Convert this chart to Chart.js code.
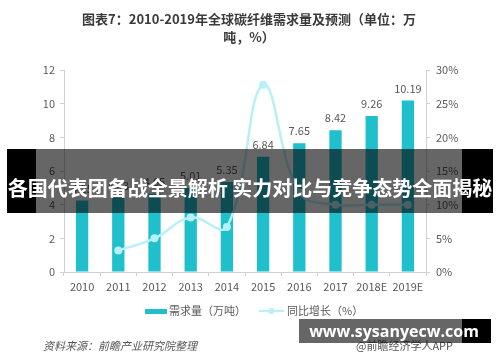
<!DOCTYPE html>
<html>
<head>
<meta charset="utf-8">
<script src="https://cdn.jsdelivr.net/npm/chart.js@4"></script>
<style>
  body { margin: 0; background: #fff; }
  #wrap { position: relative; width: 500px; height: 362px; }
  .cover { position: absolute; }
  #banner-mid { left: 36px; top: 149px; width: 426px; height: 64px; background: rgba(0,0,0,0.6); }
  #banner-l { left: 7px; top: 149px; width: 29px; height: 64px; background: #000; }
  #banner-r { left: 462px; top: 149px; width: 31px; height: 64px; background: #000; }
  #banner-text { left: 0; top: 170px; width: 500px; height: 36px; line-height: 36px; text-align: center;
    color: #fff; font-weight: bold; font-size: 20px; font-family: "Noto Sans CJK SC", sans-serif; white-space: nowrap; }
  #wm-mid { left: 299px; top: 319px; width: 163px; height: 24px; background: rgba(0,0,0,0.6); }
  #wm-r { left: 462px; top: 319px; width: 29px; height: 24px; background: #000; }
  #wm-text { left: 299px; top: 319px; width: 190px; height: 24px; line-height: 24px; text-align: center;
    color: #fff; font-weight: bold; font-size: 16px; font-family: "Open Sans", sans-serif; white-space: nowrap; }
</style>
</head>
<body>
<div id="wrap">
  <canvas id="chart" width="500" height="362"></canvas>
  <div class="cover" id="banner-mid"></div>
  <div class="cover" id="banner-l"></div>
  <div class="cover" id="banner-r"></div>
  <div class="cover" id="banner-text">各国代表团备战全景解析 实力对比与竞争态势全面揭秘</div>
  <div class="cover" id="wm-mid"></div>
  <div class="cover" id="wm-r"></div>
  <div class="cover" id="wm-text">www.sysanyecw.com</div>
</div>
<script>
const years = ['2010', '2011', '2012', '2013', '2014', '2015', '2016', '2017', '2018E', '2019E'];
const demand = [4.25, 4.43, 4.65, 5.01, 5.35, 6.84, 7.65, 8.42, 9.26, 10.19];
const growth = [null, 3.2, 5.0, 8.1, 6.7, 27.8, 11.8, 10.0, 10.0, 10.0];
const titleLines = ['图表7：2010-2019年全球碳纤维需求量及预测（单位：万', '吨，%）'];
const legendLabels = ['需求量（万吨）', '同比增长（%）'];

const FONT = '"Noto Sans CJK SC", sans-serif';
const barColor = '#1fbfcc';
const lineColor = '#b8f0f8';
const textColor = '#595959';

// title, bar values, legend and source note
const extras = {
  id: 'extras',
  afterDatasetsDraw(chart) {
    const ctx = chart.ctx;
    ctx.save();
    ctx.fillStyle = textColor;
    ctx.font = '11px ' + FONT;
    ctx.textAlign = 'center';
    ctx.textBaseline = 'middle';
    chart.getDatasetMeta(1).data.forEach((bar, i) => {
      ctx.fillText(demand[i].toFixed(2), bar.x, bar.y - 12);
    });
    ctx.restore();
  },
  afterDraw(chart) {
    const ctx = chart.ctx;
    ctx.save();
    ctx.fillStyle = '#3a3a3a';
    ctx.font = 'bold 13px ' + FONT;
    ctx.textAlign = 'center';
    ctx.textBaseline = 'middle';
    ctx.fillText(titleLines[0], 249, 19);
    ctx.fillText(titleLines[1], 249, 37);

    // legend
    ctx.font = '11px ' + FONT;
    ctx.textAlign = 'left';
    ctx.fillStyle = barColor;
    ctx.fillRect(145, 309, 22, 5);
    ctx.fillStyle = textColor;
    ctx.fillText(legendLabels[0], 169, 311);
    ctx.strokeStyle = lineColor;
    ctx.lineWidth = 2;
    ctx.beginPath();
    ctx.moveTo(259, 311);
    ctx.lineTo(284, 311);
    ctx.stroke();
    ctx.fillStyle = lineColor;
    ctx.beginPath();
    ctx.arc(271.5, 311, 3, 0, Math.PI * 2);
    ctx.fill();
    ctx.fillStyle = textColor;
    ctx.fillText(legendLabels[1], 287, 311);

    // source
    ctx.fillStyle = '#555';
    ctx.font = 'italic 11px ' + FONT;
    ctx.fillText('资料来源：前瞻产业研究院整理', 43, 346);
    ctx.font = '11px ' + FONT;
    ctx.fillText('@前瞻经济学人APP', 356, 346);
    ctx.restore();
  }
};

new Chart(document.getElementById('chart'), {
  data: {
    labels: years,
    datasets: [{
      type: 'line',
      label: legendLabels[1],
      data: growth,
      yAxisID: 'y1',
      borderColor: lineColor,
      backgroundColor: lineColor,
      borderWidth: 2.5,
      pointRadius: 4,
      pointBackgroundColor: lineColor,
      pointBorderWidth: 0,
      tension: 0.4,
      order: 0
    }, {
      type: 'bar',
      label: legendLabels[0],
      data: demand,
      yAxisID: 'y',
      backgroundColor: barColor,
      barPercentage: 0.34,
      categoryPercentage: 1,
      order: 1
    }]
  },
  options: {
    responsive: false,
    animation: false,
    layout: { padding: { left: 30, right: 34, top: 70, bottom: 60 } },
    plugins: {
      legend: { display: false },
      title: { display: false },
      tooltip: { enabled: false }
    },
    scales: {
      x: {
        offset: true,
        afterFit(scale) { scale.height = 30; },
        border: { color: '#d0d0d0' },
        grid: { offset: true, drawOnChartArea: false, tickLength: 4, color: '#d0d0d0' },
        ticks: { color: textColor, font: { family: FONT, size: 11 }, padding: 4, maxRotation: 0, autoSkip: false }
      },
      y: {
        position: 'left',
        min: 0, max: 12,
        afterFit(scale) { scale.width = 34; },
        border: { color: '#d0d0d0' },
        grid: { drawOnChartArea: false, tickLength: 4, color: '#d0d0d0' },
        ticks: { stepSize: 2, color: textColor, font: { family: FONT, size: 11 }, padding: 5 }
      },
      y1: {
        position: 'right',
        min: 0, max: 30,
        afterFit(scale) { scale.width = 40; },
        border: { color: '#d0d0d0' },
        grid: { drawOnChartArea: false, tickLength: 4, color: '#d0d0d0' },
        ticks: { stepSize: 5, color: textColor, font: { family: FONT, size: 11 }, padding: 6,
          callback: v => v + '%' }
      }
    }
  },
  plugins: [extras]
});
</script>
</body>
</html>
